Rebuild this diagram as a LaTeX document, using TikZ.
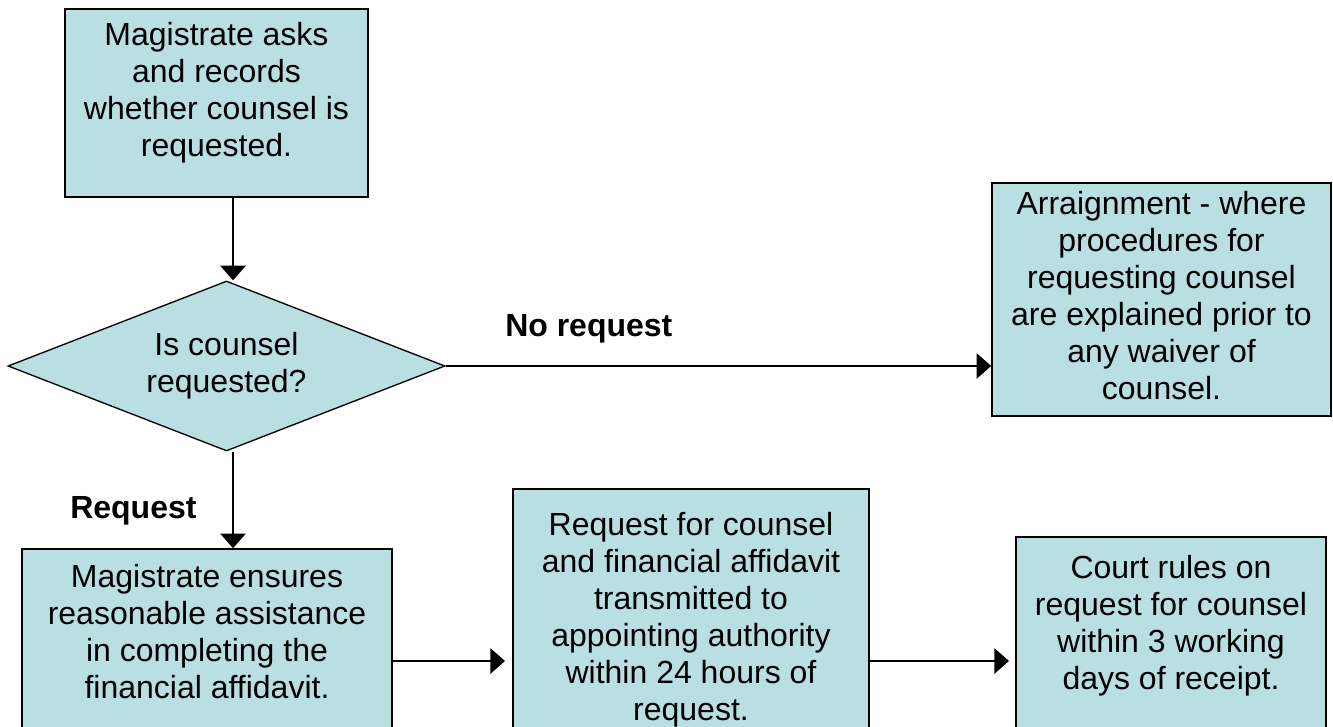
\documentclass[tikz,border=0pt]{standalone}
\usepackage{fontspec}
\setmainfont{Liberation Sans}
\usetikzlibrary{arrows.meta,shapes.geometric}
\definecolor{boxfill}{RGB}{185,223,227}
\begin{document}
\begin{tikzpicture}[x=0.75pt,y=-0.75pt,
  boxstyle/.style={draw=black, fill=boxfill, line width=1.2pt, rectangle, inner sep=0pt},
  txt/.style={font=\fontsize{24}{27.75}\selectfont, align=center, inner sep=0pt, anchor=north, execute at begin node=\strut},
  lbl/.style={font=\fontsize{24}{27.75}\selectfont\bfseries, inner sep=0pt, anchor=base west},
  arrow line/.style={line width=1.5pt, -{Triangle[length=11pt,width=19pt]}}]
\useasboundingbox (0,0) rectangle (1333,727);
% boxes
\node[boxstyle, minimum width=227.25pt, minimum height=141pt] (b1) at (216.5,103) {};
\node[boxstyle, diamond, line width=1pt, minimum width=327.75pt, minimum height=127.5pt] (dia) at (226.5,366) {};
\node[boxstyle, minimum width=254.25pt, minimum height=174.75pt] (b2) at (1161.5,299.5) {};
\node[boxstyle, minimum width=277.5pt, minimum height=135pt] (b3) at (207,639) {};
\node[boxstyle, minimum width=267pt, minimum height=180pt] (b4) at (691,609) {};
\node[boxstyle, minimum width=232.5pt, minimum height=144pt] (b5) at (1171,633) {};
% texts
\node[txt] (t1) at (216.5,22.1) {Magistrate asks\\and records\\whether counsel is\\requested.};
\node[txt] (td) at (226.5,332.1) {Is counsel\\requested?};
\node[txt] (t2) at (1161.5,191.1) {Arraignment - where\\procedures for\\requesting counsel\\are explained prior to\\any waiver of\\counsel.};
\node[txt] (t3) at (207,564.1) {Magistrate ensures\\reasonable assistance\\in completing the\\financial affidavit.};
\node[txt] (t4) at (691,512.1) {Request for counsel\\and financial affidavit\\transmitted to\\appointing authority\\within 24 hours of\\request.};
\node[txt] (t5) at (1171,555.1) {Court rules on\\request for counsel\\within 3 working\\days of receipt.};
% labels
\node[lbl] (lno) at (505,336) {No request};
\node[lbl] (lreq) at (70,518) {Request};
% connectors
\coordinate (ax) at (233,0);
\coordinate (e1) at (505,661);
\coordinate (e2) at (1009,661);
\draw[arrow line] (b1.south -| ax) -- (dia.north -| ax);
\draw[arrow line] (dia.south -| ax) -- (b3.north -| ax);
\draw[arrow line] (dia.east) -- (b2.west |- dia.east);
\draw[arrow line] (b3.east |- e1) -- (e1);
\draw[arrow line] (b4.east |- e2) -- (e2);
\end{tikzpicture}
\end{document}
